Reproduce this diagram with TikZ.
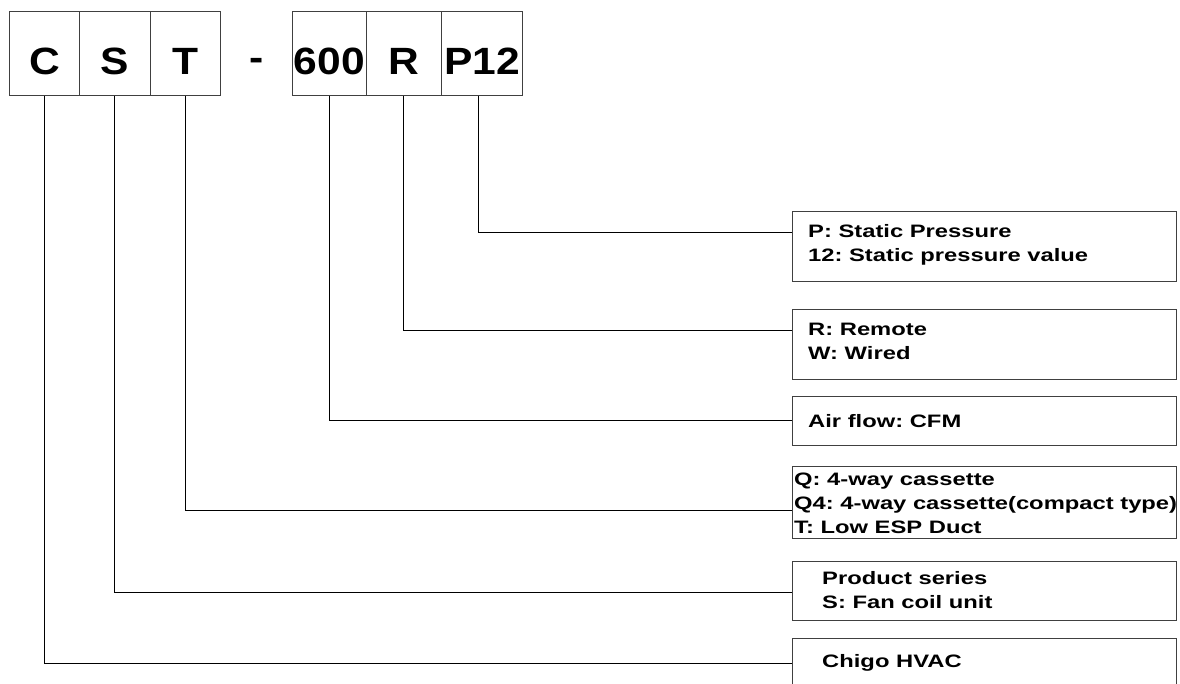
\documentclass[tikz,border=0pt]{standalone}
\usepackage{fontspec}
\setmainfont{Liberation Sans}
\newfontfamily\codefont{Liberation Sans}[FakeStretch=1.12]
\newfontfamily\notefont{Liberation Sans}[FakeStretch=1.32]
\usetikzlibrary{positioning}
\frenchspacing

\begin{document}
\begin{tikzpicture}[
      x=1pt, y=-1pt,
      code/.style={draw=black!75, line width=0.8pt, text height=63pt, text depth=21pt, inner sep=0pt,
        anchor=north west, font=\codefont\bfseries\fontsize{38}{40}\selectfont},
      note/.style={draw=black!75, line width=0.8pt, minimum width=384pt, inner sep=0pt,
        anchor=north west},
      ntxt/.style={inner sep=0pt, anchor=west, align=left,
        font=\notefont\bfseries\fontsize{18}{24}\selectfont},
      lead/.style={line width=0.9pt}]
      \useasboundingbox (0,0) rectangle (1180,684);
      \clip (0,0) rectangle (1180,684);
      % model code, one box per field
      \node[code, minimum width=70pt] (c)    at (9,11)   {C};
      \node[code, minimum width=71pt] (s)    at (79,11)  {S};
      \node[code, minimum width=70pt] (t)    at (150,11) {T};
      \node[font=\codefont\bfseries\fontsize{38}{40}\selectfont, inner sep=0pt] (dash) at (257,64) {-};
      \node[code, minimum width=74pt] (flow) at (292,11) {600};
      \node[code, minimum width=75pt] (r)    at (366,11) {R};
      \node[code, minimum width=81pt] (p12)  at (441,11) {P12};
      % meaning of each field
      \node[note, minimum height=70pt] (pbox) at (792,211) {};
      \node[note, minimum height=70pt] (rbox) at (792,309) {};
      \node[note, minimum height=49pt] (abox) at (792,396) {};
      \node[note, minimum height=72pt] (qbox) at (792,466) {};
      \node[note, minimum height=59pt] (sbox) at (792,561) {};
      \node[note, minimum height=70pt] (cbox) at (792,638) {};
      \node[ntxt] (ptxt) at (808,245) {P: Static Pressure\\12: Static pressure value};
      \node[ntxt] (rtxt) at (808,341) {R: Remote\\W: Wired};
      \node[ntxt] (atxt) at (808,421) {Air flow: CFM};
      \node[ntxt] (qtxt) at (794,503) {Q: 4-way cassette\\Q4: 4-way cassette(compact type)\\T: Low ESP Duct};
      \node[ntxt] (stxt) at (822,590) {Product series\\S: Fan coil unit};
      \node[ntxt] (ctxt) at (822,663) {Chigo HVAC};
      % leaders from field to note
      \draw[lead] ([xshift=-3.5pt]p12.south) |- ([yshift=14pt]pbox.west);
      \draw[lead] (r.south)    |- ([yshift=14pt]rbox.west);
      \draw[lead] (flow.south) |- (abox.west);
      \draw[lead] (t.south)    |- ([yshift=-8pt]qbox.west);
      \draw[lead] (s.south)    |- ([yshift=-1.5pt]sbox.west);
      \draw[lead] (c.south)    |- ([yshift=10pt]cbox.west);
    \end{tikzpicture}
\end{document}
